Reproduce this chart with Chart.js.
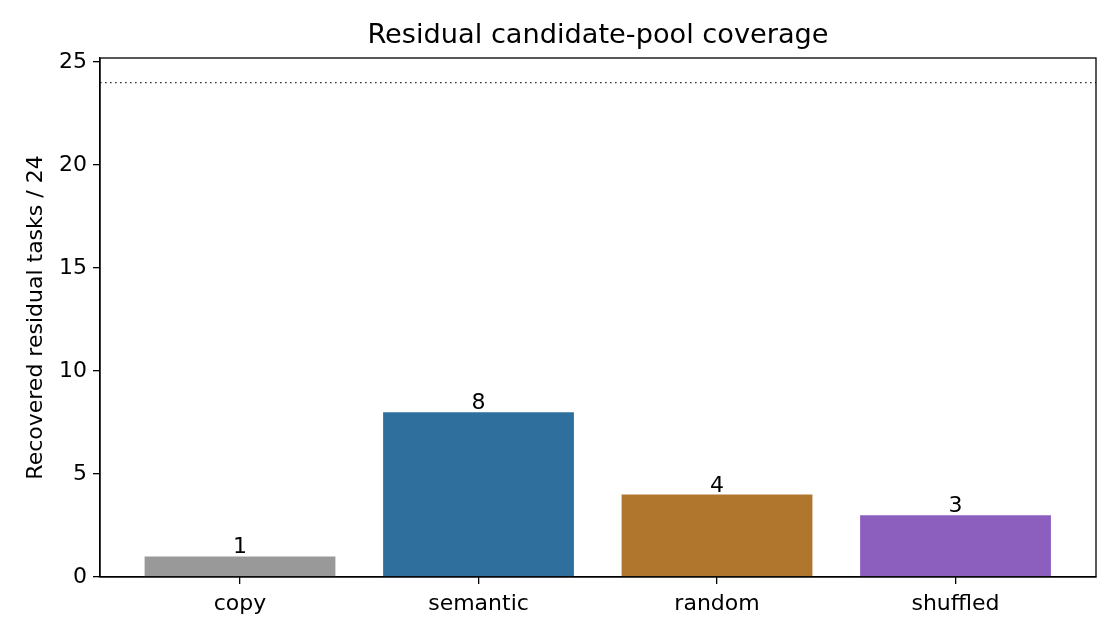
<!DOCTYPE html>
<html>
<head>
<meta charset="utf-8">
<script src="https://cdn.jsdelivr.net/npm/chart.js@4/dist/chart.umd.min.js"></script>
<style>
  html, body { margin: 0; padding: 0; background: #ffffff; }
  #wrap { width: 1120px; height: 640px; }
</style>
</head>
<body>
<div id="wrap"><canvas id="chart_pool"></canvas></div>
<script>
// chart data
var chartTitle = "Residual candidate-pool coverage";
var categories = ["copy", "semantic", "random", "shuffled"];
var recovered = [1, 8, 4, 3];
var barColors = ["#999999", "#2e6f9e", "#b0762e", "#8c5fbf"];
var totalTasks = 24;
var yTicks = [0, 5, 10, 15, 20, 25];

var FONT = "'DejaVu Sans', sans-serif";

// title over the plot area, frame, dotted total line, value labels
var extrasPlugin = {
    id: "extras",
    afterDatasetsDraw: function (chart) {
        var ctx = chart.ctx;
        var area = chart.chartArea;
        var y = chart.scales.y;

        // title centred on the axes, like matplotlib
        ctx.save();
        ctx.fillStyle = "#000000";
        ctx.font = "27.2px " + FONT;
        ctx.textAlign = "center";
        ctx.textBaseline = "middle";
        ctx.fillText(chartTitle, (area.left + area.right) / 2, 36);
        ctx.restore();

        // dotted reference line at total
        var yy = y.getPixelForValue(totalTasks);
        ctx.save();
        ctx.strokeStyle = "#333333";
        ctx.lineWidth = 1.3;
        ctx.setLineDash([1.6, 3.4]);
        ctx.beginPath();
        ctx.moveTo(area.left, yy);
        ctx.lineTo(area.right, yy);
        ctx.stroke();
        ctx.restore();

        // value labels
        var meta = chart.getDatasetMeta(0);
        ctx.save();
        ctx.fillStyle = "#000000";
        ctx.font = "22px " + FONT;
        ctx.textAlign = "center";
        ctx.textBaseline = "alphabetic";
        meta.data.forEach(function (bar, i) {
            ctx.fillText(String(recovered[i]), bar.x, bar.y - 3);
        });
        ctx.restore();

        // frame
        ctx.save();
        ctx.strokeStyle = "#000000";
        ctx.lineWidth = 1.3;
        ctx.strokeRect(area.left, area.top, area.right - area.left, area.bottom - area.top);
        ctx.restore();
    }
};

function DrawPoolChart() {
    var points = categories.map(function (c, i) { return { x: i, y: recovered[i] }; });
    new Chart(document.getElementById("chart_pool"), {
        type: "bar",
        data: {
            datasets: [{
                data: points,
                backgroundColor: barColors,
                borderWidth: 0,
                barPercentage: 0.8,
                categoryPercentage: 1.0
            }]
        },
        options: {
            responsive: true,
            maintainAspectRatio: false,
            animation: false,
            layout: { padding: { left: 0, right: 24, top: 58, bottom: 0 } },
            plugins: {
                legend: { display: false },
                tooltip: { enabled: false },
                title: { display: false }
            },
            scales: {
                x: {
                    type: "linear",
                    min: -0.587,
                    max: 3.589,
                    offset: false,
                    afterBuildTicks: function (scale) {
                        scale.ticks = categories.map(function (c, i) { return { value: i }; });
                    },
                    afterFit: function (scale) { scale.height = 63; },
                    ticks: {
                        color: "#000000",
                        font: { family: FONT, size: 22 },
                        padding: 7,
                        maxRotation: 0,
                        callback: function (v) { return categories[v]; }
                    },
                    grid: { offset: false, drawOnChartArea: false, color: "#000000", tickLength: 7, lineWidth: 1.3 },
                    border: { display: true, color: "#000000", width: 1.3 }
                },
                y: {
                    min: 0,
                    max: 25.2,
                    afterBuildTicks: function (scale) {
                        scale.ticks = yTicks.map(function (v) { return { value: v }; });
                    },
                    afterFit: function (scale) { scale.width = 100; },
                    title: {
                        display: true,
                        text: "Recovered residual tasks / " + totalTasks,
                        color: "#000000",
                        font: { family: FONT, size: 22 },
                        padding: { top: 23, bottom: 0 }
                    },
                    ticks: {
                        color: "#000000",
                        font: { family: FONT, size: 22 },
                        padding: 6
                    },
                    grid: { drawOnChartArea: false, color: "#000000", tickLength: 7, lineWidth: 1.3 },
                    border: { display: true, color: "#000000", width: 1.3 }
                }
            }
        },
        plugins: [extrasPlugin]
    });
}

try {
    DrawPoolChart();
} catch (e) {
    console.log("chart error: " + e.message);
}
</script>
</body>
</html>
